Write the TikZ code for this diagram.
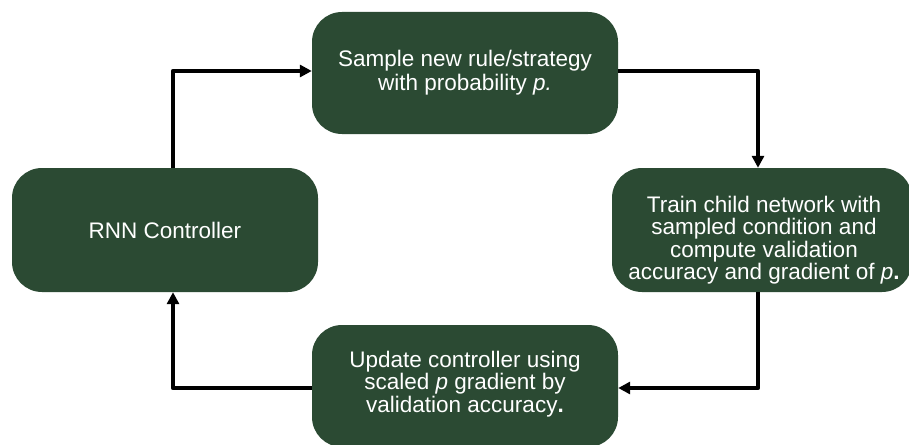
\documentclass[tikz,border=0pt]{standalone}
\usepackage{fontspec}
\setmainfont{Liberation Sans}
\usetikzlibrary{arrows.meta}
\definecolor{boxgreen}{HTML}{2B4A33}
\begin{document}
\begin{tikzpicture}[x=1pt,y=-1pt,
  stepbox/.style={draw=none,fill=boxgreen,rounded corners=30pt,text=white,
    align=center,inner sep=0pt,font=\fontsize{22.5}{24}\selectfont},
  steptext/.style={text=white,align=center,inner sep=0pt,font=\fontsize{22.5}{22.5}\selectfont},
  arr/.style={line width=4.5pt,line join=round,-{Triangle[length=12pt,width=12pt]}}]
\useasboundingbox (0,0) rectangle (909,444);
\node[stepbox,minimum width=306pt,minimum height=122pt] (top) at (465,73)
  {Sample new rule/strategy\\with probability \textit{p.}};
\node[stepbox,minimum width=306pt,minimum height=124pt] (left) at (165,230)
  {RNN Controller};
\node[stepbox,minimum width=300pt,minimum height=124pt] (right) at (762,230)
  {};
\node[steptext] (righttext) at (764,240)
  {Train child network with\\sampled condition and\\compute validation\\accuracy and gradient of \textit{p}\textbf{.}};
\node[stepbox,minimum width=306pt,minimum height=122pt] (bottom) at (465,386)
  {};
\node[steptext] (bottomtext) at (465,384)
  {Update controller using\\scaled \textit{p} gradient by\\validation accuracy\textbf{.}};
\draw[arr] ([xshift=8pt]left.north) |- ([yshift=2pt]top.west);
\draw[arr] ([yshift=2pt]top.east) -| ([xshift=-4pt]right.north);
\draw[arr] ([xshift=-4pt]right.south) |- ([yshift=-2pt]bottom.east);
\draw[arr] ([yshift=-2pt]bottom.west) -| ([xshift=8pt]left.south);
\end{tikzpicture}
\end{document}
